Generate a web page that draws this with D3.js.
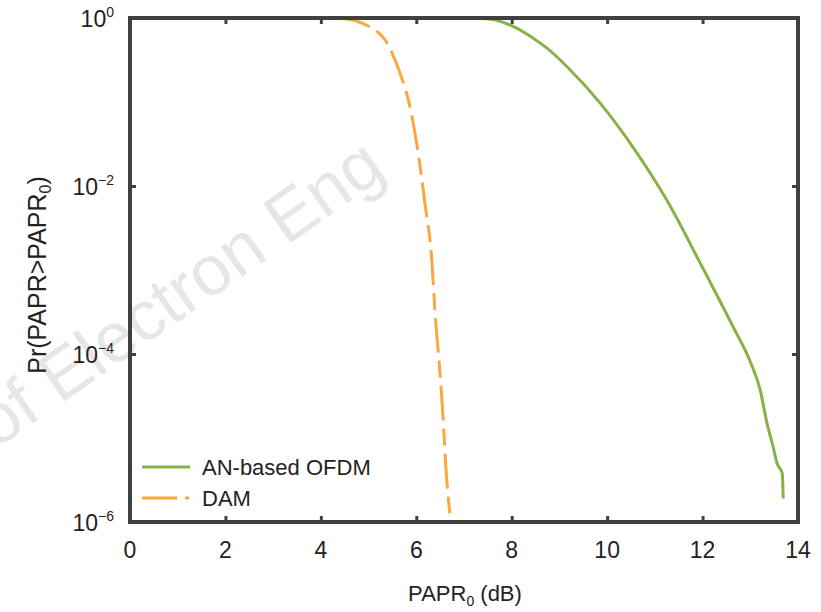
<!DOCTYPE html>
<html>
<head>
<meta charset="utf-8">
<script src="https://cdn.jsdelivr.net/npm/d3@7"></script>
<style>
  body { margin: 0; background: #fff; }
  text { font-family: "Liberation Sans", Arial, sans-serif; }
</style>
</head>
<body>
<svg id="chart" width="821" height="612"></svg>
<script>
// values
const xTicks = [0, 2, 4, 6, 8, 10, 12, 14];
const yTickExps = [0, -2, -4, -6];

const ofdmX = [5.93, 7.0, 7.34, 7.76, 8.03, 8.45, 8.74, 9.16, 9.85, 10.54, 11.25, 11.95, 12.64, 13.0, 13.21, 13.35, 13.48, 13.56, 13.67, 13.69];
const ofdmY = [1, 1, 0.99, 0.912, 0.794, 0.575, 0.437, 0.263, 0.0977, 0.0291, 6.8e-3, 1.21e-3, 2.1e-4, 8.1e-5, 3.7e-5, 1.5e-5, 7.8e-6, 5.0e-6, 3.8e-6, 1.9e-6];

const damX = [1.47, 3.98, 4.40, 5.03, 5.39, 5.66, 5.87, 6.04, 6.18, 6.33, 6.39, 6.48, 6.56, 6.62, 6.71];
const damY = [1, 1, 0.995, 0.78, 0.50, 0.22, 0.087, 0.0246, 6.3e-3, 1.2e-3, 3.3e-4, 7.8e-5, 1.8e-5, 4.5e-6, 1.15e-6];

const svg = d3.select('#chart');

const GREEN = "#8bb048", ORANGE = "#fca642", FRAME = "#404040";

const plotL = 130, plotR = 798, plotT = 18, plotB = 522;

const xScale = d3.scaleLinear().domain([0, 14]).range([plotL, plotR]);
const yScale = d3.scaleLog().domain([1e-6, 1]).range([plotB, plotT]);

// watermark
svg.append('text')
  .attr('transform', 'translate(192,312) rotate(-35)')
  .attr('text-anchor', 'middle')
  .attr('font-size', 70)
  .attr('fill', '#e6e6e6')
  .text('of Electron Eng');

const toPoints = (xs, ys) => xs.map((x, i) => ({x: x, y: ys[i]}));

const line = d3.line()
  .x(d => xScale(d.x))
  .y(d => yScale(d.y))
  .curve(d3.curveMonotoneX);

svg.append('path')
  .attr('d', line(toPoints(damX, damY)))
  .attr('fill', 'none')
  .attr('stroke', ORANGE)
  .attr('stroke-width', 3)
  .attr('stroke-dasharray', '35,8,17,8');

svg.append('path')
  .attr('d', line(toPoints(ofdmX, ofdmY)))
  .attr('fill', 'none')
  .attr('stroke', GREEN)
  .attr('stroke-width', 3);

// axes with inward ticks, mirrored on top and right
const xAxisB = d3.axisBottom(xScale).tickValues(xTicks).tickSizeInner(-6).tickSizeOuter(0).tickFormat('');
const xAxisT = d3.axisTop(xScale).tickValues(xTicks).tickSizeInner(-6).tickSizeOuter(0).tickFormat('');
const yVals = yTickExps.map(e => Math.pow(10, e));
const yAxisL = d3.axisLeft(yScale).tickValues(yVals).tickSizeInner(-6).tickSizeOuter(0).tickFormat('');
const yAxisR = d3.axisRight(yScale).tickValues(yVals).tickSizeInner(-6).tickSizeOuter(0).tickFormat('');

svg.append('g').attr('transform', `translate(0,${plotB})`).call(xAxisB);
svg.append('g').attr('transform', `translate(0,${plotT})`).call(xAxisT);
svg.append('g').attr('transform', `translate(${plotL},0)`).call(yAxisL);
svg.append('g').attr('transform', `translate(${plotR},0)`).call(yAxisR);

svg.selectAll('.domain').remove();
svg.selectAll('.tick line').attr('stroke', FRAME).attr('stroke-width', 3);

svg.append('rect')
  .attr('x', plotL).attr('y', plotT)
  .attr('width', plotR - plotL).attr('height', plotB - plotT)
  .attr('fill', 'none')
  .attr('stroke', FRAME)
  .attr('stroke-width', 4);

// tick labels
svg.selectAll('text.xlab').data(xTicks)
  .enter().append('text')
  .attr('class', 'xlab')
  .attr('x', d => xScale(d))
  .attr('y', 558)
  .attr('text-anchor', 'middle')
  .attr('font-size', 23)
  .attr('fill', '#222')
  .text(d => d);

const ylab = svg.selectAll('text.ylab').data(yTickExps)
  .enter().append('text')
  .attr('class', 'ylab')
  .attr('x', 114)
  .attr('y', d => yScale(Math.pow(10, d)) + 9)
  .attr('text-anchor', 'end')
  .attr('font-size', 23)
  .attr('fill', '#222');
ylab.append('tspan').text('10');
ylab.append('tspan')
  .attr('font-size', 14)
  .attr('dy', -10)
  .text(d => d === 0 ? '0' : '\u2212' + (-d));

// axis titles
const xt = svg.append('text')
  .attr('x', 465).attr('y', 601)
  .attr('text-anchor', 'middle')
  .attr('font-size', 22)
  .attr('fill', '#222');
xt.append('tspan').text('PAPR');
xt.append('tspan').attr('font-size', 14).attr('dy', 5).text('0');
xt.append('tspan').attr('dy', -5).text(' (dB)');

const yt = svg.append('text')
  .attr('transform', 'translate(46,275) rotate(-90)')
  .attr('text-anchor', 'middle')
  .attr('font-size', 25)
  .attr('fill', '#222');
yt.append('tspan').text('Pr(PAPR>PAPR');
yt.append('tspan').attr('font-size', 16).attr('dy', 5).text('0');
yt.append('tspan').attr('dy', -5).text(')');

// legend
const legend = [
  {name: 'AN-based OFDM', color: GREEN, dash: null, y: 467},
  {name: 'DAM', color: ORANGE, dash: '35,8,4,8', y: 498}
];
const lg = svg.selectAll('g.leg').data(legend).enter().append('g').attr('class', 'leg');
lg.append('line')
  .attr('x1', 142).attr('x2', 190)
  .attr('y1', d => d.y).attr('y2', d => d.y)
  .attr('stroke', d => d.color)
  .attr('stroke-width', 3)
  .attr('stroke-dasharray', d => d.dash);
lg.append('text')
  .attr('x', 202)
  .attr('y', d => d.y + 8)
  .attr('font-size', 22)
  .attr('fill', '#222')
  .text(d => d.name);
</script>
</body>
</html>
